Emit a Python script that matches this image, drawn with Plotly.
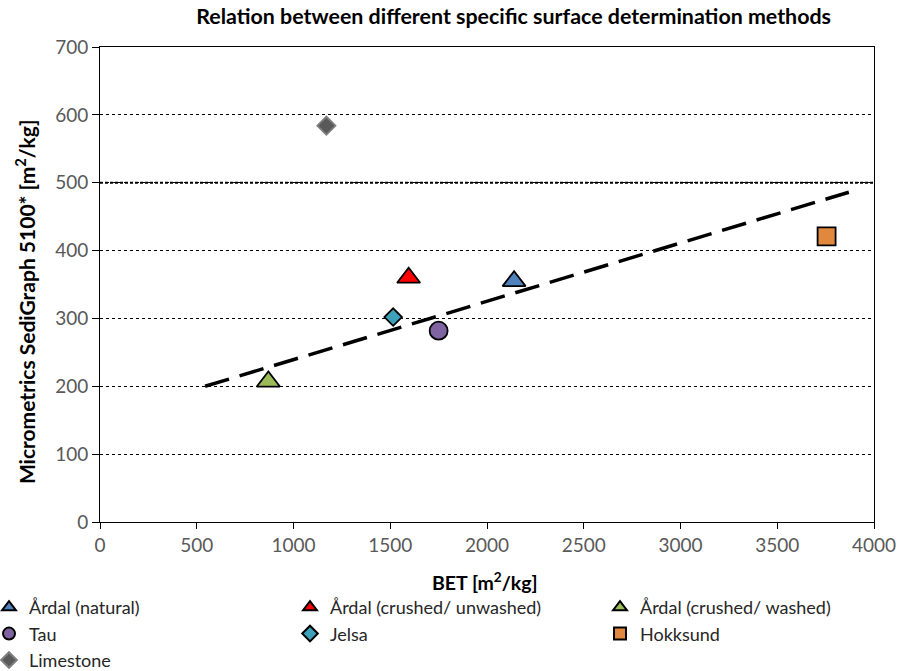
import plotly.graph_objects as go

# BET vs SediGraph specific surface, one point per material
names = ["Årdal (natural)", "Årdal (crushed/ unwashed)", "Årdal (crushed/ washed)",
         "Tau", "Jelsa", "Hokksund", "Limestone"]
bet = [2140, 1595, 870, 1750, 1515, 3755, 1170]
sedigraph = [355, 360, 207, 282, 302, 421, 584]
symbols = ["triangle-up", "triangle-up", "triangle-up", "circle", "diamond", "square", "diamond"]
colors = ["#4F81BD", "#FF0000", "#9BBB59", "#8064A2", "#3FA0BA", "#E0883E", "#595959"]
outlines = ["#000000", "#000000", "#000000", "#000000", "#000000", "#000000", "#7F7F7F"]
sizes = [20, 20, 20, 18, 13.5, 18, 14]
# legend column for each series (three columns, filled row by row)
legend_cols = ["legend", "legend2", "legend3", "legend", "legend2", "legend3", "legend"]

# linear trend line end points
trend_x = [543, 3870]
trend_y = [200, 486]

fig = go.Figure()
fig.add_trace(go.Scatter(x=trend_x, y=trend_y, mode="lines", showlegend=False,
                         line=dict(color="black", width=3.5, dash="25px,11px"), hoverinfo="skip"))
for n, x, y, s, c, o, sz, lg in zip(names, bet, sedigraph, symbols, colors, outlines, sizes, legend_cols):
    fig.add_trace(go.Scatter(x=[x], y=[y], mode="markers", name=n, legend=lg,
                             marker=dict(symbol=s, color=c, size=sz,
                                         line=dict(color=o, width=1.8))))

# darker major gridline at 500
fig.add_hline(y=500, line=dict(color="black", width=2, dash="3px,2px"), layer="below")

font = "Lato, Carlito, Calibri, sans-serif"
legend_style = dict(orientation="v", yanchor="top", xanchor="left", y=-0.141,
                    itemsizing="constant", tracegroupgap=0, itemwidth=30,
                    font=dict(size=18, color="#262626", family=font),
                    bgcolor="rgba(0,0,0,0)")

fig.update_layout(
    width=898, height=671,
    margin=dict(l=100, r=24, t=47, b=149, autoexpand=False),
    paper_bgcolor="white", plot_bgcolor="white",
    font=dict(family=font, size=19, color="#595959"),
    title=dict(text="<b>Relation between different specific surface determination methods</b>",
               x=0.572, xanchor="center", y=0.975, yanchor="middle",
               font=dict(size=21.4, color="black", family=font)),
    xaxis=dict(range=[0, 4000], dtick=500, showgrid=False, zeroline=False,
               showline=True, linecolor="#000000", linewidth=1, mirror=True,
               ticks="outside", ticklen=6, tickcolor="#000000", automargin=False),
    yaxis=dict(range=[0, 700], dtick=100, showgrid=True, gridcolor="#000000", gridwidth=1,
               griddash="3px,3px", zeroline=False,
               showline=True, linecolor="#000000", linewidth=1, mirror=True,
               ticks="outside", ticklen=7, tickcolor="#000000", automargin=False),
    legend=dict(legend_style, x=-0.1434),
    legend2=dict(legend_style, x=0.2455),
    legend3=dict(legend_style, x=0.646),
    showlegend=True,
)

# axis titles
fig.add_annotation(text="<b>BET [m<sup>2</sup>/kg]</b>",
                   xref="paper", yref="paper", x=0.497, y=-0.1263,
                   xanchor="center", yanchor="middle", showarrow=False,
                   font=dict(size=19.5, color="black", family=font))
fig.add_annotation(text="<b>Micrometrics SediGraph 5100* [m<sup>2</sup>/kg]</b>",
                   xref="paper", yref="paper", x=-0.0969, y=0.465,
                   xanchor="center", yanchor="middle", textangle=-90, showarrow=False,
                   font=dict(size=21, color="black", family=font))

fig.write_html("out.html")
